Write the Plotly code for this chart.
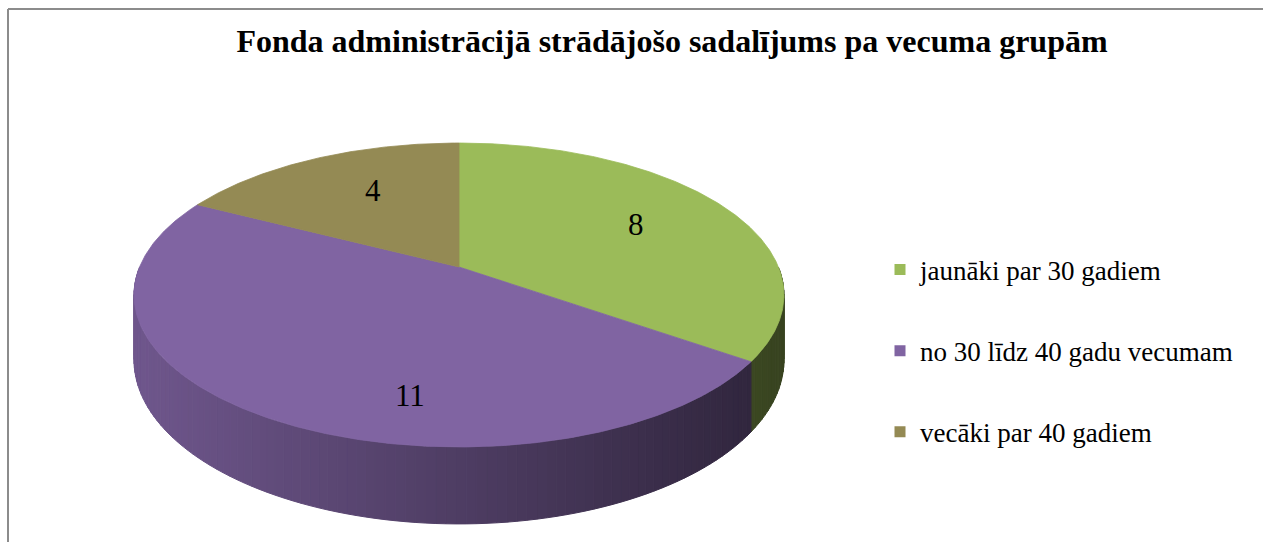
import numpy as np
import plotly.graph_objects as go

# ---------------- data ----------------
title_text = "Fonda administrācijā strādājošo sadalījums pa vecuma grupām"
categories = ["jaunāki par 30 gadiem", "no 30 līdz 40 gadu vecumam", "vecāki par 40 gadiem"]
values = [8, 11, 4]
colors = ["#9BBB59", "#8064A2", "#948A54"]

# ---------------- geometry / style (layout, not data) ----------------
W, H = 1263, 542
CX, CY = 459.0, 267.0      # apex of pie on screen
BR, AR = 319.4, 146.8      # horizontal / vertical radius factors
Q = 0.1842                 # perspective factor
D0 = 62.8                  # depth of the pie side
LEFT_X, RIGHT_X = 134.0, 784.0
SHADE_L, SHADE_R = 0.87, 0.36
LABEL_PLACE = [(0.0, 0.66), (-21.3, 0.763), (4.0, 0.65)]  # (angle shift, radius fraction)
SERIF = "Liberation Serif, Times New Roman, serif"


def proj(theta_deg, r=1.0):
    t = np.radians(theta_deg)
    X = r * np.sin(t)
    Z = r * np.cos(t)
    w = 1 + Q * Z
    return CX + BR * X / w, CY - AR * Z / w


def depth(theta_deg):
    return D0 / (1 + Q * np.cos(np.radians(theta_deg)))


def hex2rgb(h):
    h = h.lstrip("#")
    return tuple(int(h[i:i + 2], 16) for i in (0, 2, 4))


def shade(hexcol, x):
    f = SHADE_L + (SHADE_R - SHADE_L) * np.clip((x - LEFT_X) / (RIGHT_X - LEFT_X), 0, 1)
    r, g, b = hex2rgb(hexcol)
    return "rgb(%d,%d,%d)" % (r * f, g * f, b * f)


total = float(sum(values))
bounds = []
start = 0.0
for v in values:
    end = start + v / total * 360.0
    bounds.append((start, end))
    start = end

fig = go.Figure()

# ---------- sides (front, visible part) ----------
for (a0, a1), col in zip(bounds, colors):
    s0, s1 = max(a0, 90.0), min(a1, 270.0)
    if s0 >= s1:
        continue
    n = max(1, int(np.ceil((s1 - s0) / 1.5)))
    edges = np.linspace(s0, s1, n + 1)
    for t0, t1 in zip(edges[:-1], edges[1:]):
        ts = np.linspace(t0, t1, 4)
        xt, yt = proj(ts)
        xb = xt[::-1]
        yb = (yt + depth(ts))[::-1]
        xs = np.concatenate([xt, xb, xt[:1]])
        ys = np.concatenate([yt, yb, yt[:1]])
        c = shade(col, float(np.mean(xt)))
        fig.add_trace(go.Scatter(x=xs, y=ys, mode="lines", fill="toself",
                                 fillcolor=c, line=dict(color=c, width=1),
                                 hoverinfo="skip", showlegend=False))

# ---------- top surface slices ----------
for (a0, a1), col in zip(bounds, colors):
    ts = np.linspace(a0, a1, max(2, int((a1 - a0) / 0.5) + 1))
    xa, ya = proj(ts)
    xs = np.concatenate([[CX], xa, [CX]])
    ys = np.concatenate([[CY], ya, [CY]])
    fig.add_trace(go.Scatter(x=xs, y=ys, mode="lines", fill="toself",
                             fillcolor=col, line=dict(color=col, width=0.8),
                             hoverinfo="skip", showlegend=False))

# ---------- data labels ----------
for (a0, a1), v, (da, rr) in zip(bounds, values, LABEL_PLACE):
    lx, ly = proj((a0 + a1) / 2 + da, rr)
    fig.add_annotation(x=float(lx), y=float(ly), xref="x", yref="y", text=str(v),
                       showarrow=False, xanchor="center", yanchor="middle",
                       font=dict(family=SERIF, size=31, color="black"))

# ---------- legend entries ----------
for i, (name, col) in enumerate(zip(categories, colors)):
    fig.add_trace(go.Scatter(x=[None], y=[None], mode="markers", name=name,
                             legendgroup="g%d" % i,
                             marker=dict(symbol="square", size=11, color=col)))

# ---------- border ----------
fig.add_shape(type="line", xref="x", yref="y", x0=8, y0=9, x1=W + 5, y1=9,
              line=dict(color="#8c8c8c", width=2))
fig.add_shape(type="line", xref="x", yref="y", x0=8, y0=9, x1=8, y1=H + 5,
              line=dict(color="#8c8c8c", width=2))

fig.update_layout(
    width=W, height=H,
    margin=dict(l=0, r=0, t=0, b=0),
    paper_bgcolor="white", plot_bgcolor="white",
    title=dict(text="<b>" + title_text + "</b>", x=672 / W, xanchor="center",
               xref="paper", y=1 - 41 / H, yanchor="middle", yref="container",
               font=dict(family=SERIF, size=32, color="black")),
    xaxis=dict(range=[0, W], visible=False, fixedrange=True),
    yaxis=dict(range=[H, 0], visible=False, fixedrange=True),
    showlegend=True,
    legend=dict(x=880 / W, xanchor="left", y=1 - 351 / H, yanchor="middle",
                font=dict(family=SERIF, size=27, color="black"),
                tracegroupgap=43, traceorder="grouped",
                bgcolor="rgba(0,0,0,0)", borderwidth=0),
    hovermode=False,
)

fig.write_html("out.html",
               config={"displayModeBar": False, "staticPlot": True},
               post_script="document.body.style.margin='0';document.body.style.overflow='hidden';")
